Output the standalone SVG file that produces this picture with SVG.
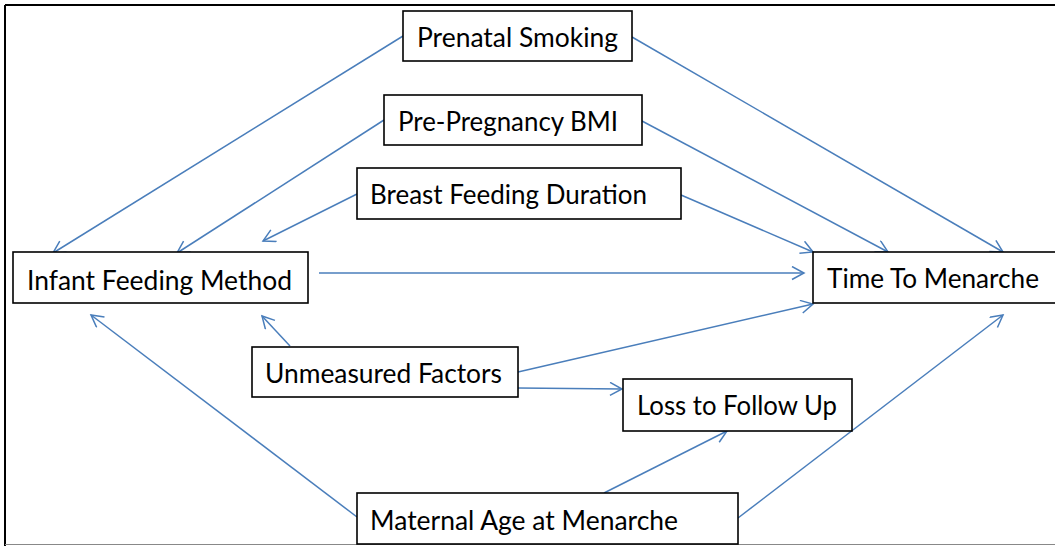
<svg xmlns="http://www.w3.org/2000/svg" width="1055" height="546" viewBox="0 0 1055 546">
<style>
.box{fill:#fff;stroke:#000;stroke-width:1.6}
.lbl{font-family:Lato,"Open Sans","Liberation Sans",sans-serif;font-size:27px;fill:#000}
.con{stroke:#4A7EBB;stroke-width:1.5;fill:none}
</style>
<defs>
<marker id="arr" markerUnits="userSpaceOnUse" markerWidth="16" markerHeight="16" refX="13" refY="7" orient="auto">
<path d="M1,0.5 L13,7 L1,13.5" fill="none" stroke="#4A7EBB" stroke-width="1.5"/>
</marker>
</defs>
<rect x="0" y="0" width="1055" height="546" fill="#fff"/>
<g id="frame">
<line x1="5" y1="5" x2="1056" y2="5" stroke="#000" stroke-width="2"/>
<line x1="5" y1="5" x2="5" y2="546" stroke="#000" stroke-width="2"/>
<line x1="5" y1="544.5" x2="1056" y2="544.5" stroke="#888" stroke-width="1.2"/>
</g>
<g id="connectors">
<line class="con" x1="403" y1="36" x2="53" y2="253" marker-end="url(#arr)"/>
<line class="con" x1="632" y1="37" x2="1003" y2="252" marker-end="url(#arr)"/>
<line class="con" x1="384" y1="120" x2="177" y2="253" marker-end="url(#arr)"/>
<line class="con" x1="642" y1="121" x2="888" y2="252" marker-end="url(#arr)"/>
<line class="con" x1="357" y1="194" x2="263" y2="241" marker-end="url(#arr)"/>
<line class="con" x1="681" y1="195" x2="813" y2="252" marker-end="url(#arr)"/>
<line class="con" x1="319" y1="273" x2="804" y2="273" marker-end="url(#arr)"/>
<line class="con" x1="290" y1="346" x2="262" y2="316" marker-end="url(#arr)"/>
<line class="con" x1="518" y1="372" x2="813" y2="304" marker-end="url(#arr)"/>
<line class="con" x1="518" y1="388" x2="622" y2="389" marker-end="url(#arr)"/>
<line class="con" x1="604" y1="493" x2="727" y2="431" marker-end="url(#arr)"/>
<line class="con" x1="738" y1="518" x2="1003" y2="315" marker-end="url(#arr)"/>
<line class="con" x1="357" y1="517" x2="91" y2="315" marker-end="url(#arr)"/>
</g>
<g id="prenatal-smoking">
<rect class="box" x="403" y="11" width="229" height="50"/>
<text class="lbl" x="417" y="47" textLength="201" lengthAdjust="spacingAndGlyphs">Prenatal Smoking</text>
</g>
<g id="pre-pregnancy-bmi">
<rect class="box" x="384" y="95" width="258" height="50"/>
<text class="lbl" x="398" y="131" textLength="220" lengthAdjust="spacingAndGlyphs">Pre-Pregnancy BMI</text>
</g>
<g id="breast-feeding-duration">
<rect class="box" x="357" y="168" width="324" height="51"/>
<text class="lbl" x="370" y="204" textLength="277" lengthAdjust="spacingAndGlyphs">Breast Feeding Duration</text>
</g>
<g id="infant-feeding-method">
<rect class="box" x="13" y="252" width="295" height="51"/>
<text class="lbl" x="27" y="290" textLength="265" lengthAdjust="spacingAndGlyphs">Infant Feeding Method</text>
</g>
<g id="time-to-menarche">
<rect class="box" x="813" y="252" width="250" height="51"/>
<text class="lbl" x="827" y="288" textLength="212" lengthAdjust="spacingAndGlyphs">Time To Menarche</text>
</g>
<g id="unmeasured-factors">
<rect class="box" x="252" y="347" width="266" height="50"/>
<text class="lbl" x="265" y="383" textLength="237" lengthAdjust="spacingAndGlyphs">Unmeasured Factors</text>
</g>
<g id="loss-to-follow-up">
<rect class="box" x="623" y="379" width="229" height="52"/>
<text class="lbl" x="637" y="415" textLength="200" lengthAdjust="spacingAndGlyphs">Loss to Follow Up</text>
</g>
<g id="maternal-age-at-menarche">
<rect class="box" x="357" y="493" width="381" height="51"/>
<text class="lbl" x="370" y="530" textLength="308" lengthAdjust="spacingAndGlyphs">Maternal Age at Menarche</text>
</g>
</svg>
